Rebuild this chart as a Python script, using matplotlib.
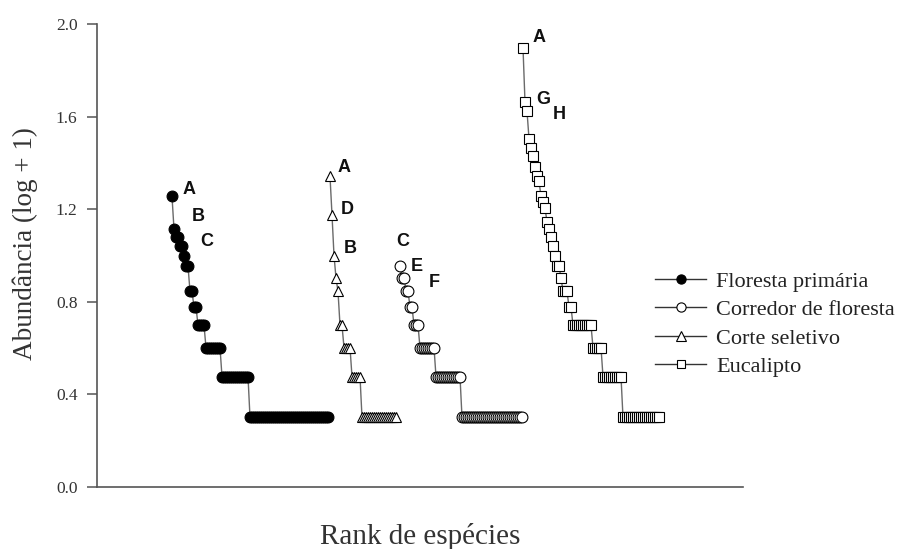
import numpy as np
import matplotlib
matplotlib.use("Agg")
import matplotlib.pyplot as plt

# Species abundances per habitat, ordered by rank (most abundant first)
floresta_primaria = [17, 12, 11, 11, 10, 10, 9, 8, 8, 6, 6, 5, 5,
                     4, 4, 4, 4,
                     3, 3, 3, 3, 3, 3, 3, 3,
                     2, 2, 2, 2, 2, 2, 2, 2, 2, 2, 2, 2, 2, 2,
                     1, 1, 1, 1, 1, 1, 1, 1, 1, 1, 1, 1, 1, 1, 1, 1, 1, 1, 1, 1,
                     1, 1, 1, 1, 1, 1, 1, 1, 1, 1, 1, 1, 1, 1, 1, 1, 1, 1, 1, 1]
corte_seletivo = [21, 14, 9, 7, 6, 4, 4, 3, 3, 3, 3, 2, 2, 2, 2, 2,
                  1, 1, 1, 1, 1, 1, 1, 1, 1, 1, 1, 1, 1, 1, 1, 1, 1, 1]
corredor_floresta = [8, 7, 7, 6, 6, 5, 5, 4, 4, 4,
                     3, 3, 3, 3, 3, 3, 3, 3,
                     2, 2, 2, 2, 2, 2, 2, 2, 2, 2, 2, 2, 2,
                     1, 1, 1, 1, 1, 1, 1, 1, 1, 1, 1, 1, 1, 1, 1, 1,
                     1, 1, 1, 1, 1, 1, 1, 1, 1, 1, 1, 1, 1, 1, 1]
eucalipto = [78, 45, 41, 31, 28, 26, 23, 21, 20, 17, 16, 15, 13, 12, 11, 10,
             9, 8, 8, 7, 6, 6, 6, 5, 5,
             4, 4, 4, 4, 4, 4, 4, 4, 4, 4,
             3, 3, 3, 3, 3,
             2, 2, 2, 2, 2, 2, 2, 2, 2, 2,
             1, 1, 1, 1, 1, 1, 1, 1, 1, 1, 1, 1, 1, 1, 1, 1, 1, 1, 1]

# First rank of each habitat on the shared rank axis
start_rank = {"floresta": 37.5, "corte": 116.5, "corredor": 151.5, "eucalipto": 213.0}

# Letter annotations: (series, rank index within series, letter, dx px, dy px)
letters = [
    ("floresta", 0, "A", 17, 7), ("floresta", 1, "B", 24, 13), ("floresta", 2, "C", 31, -4),
    ("corte", 0, "A", 14, 9), ("corte", 1, "D", 15, 5), ("corte", 2, "B", 16, 7),
    ("corredor", 0, "C", 3, 25), ("corredor", 1, "E", 15, 11), ("corredor", 3, "F", 28, 9),
    ("eucalipto", 0, "A", 16, 10), ("eucalipto", 1, "G", 18, 3), ("eucalipto", 2, "H", 32, -3),
]

serif = ["Liberation Serif", "DejaVu Serif"]
sans = ["Liberation Sans", "DejaVu Sans"]

fig = plt.figure(figsize=(8.99, 5.49), dpi=100)
W, H = 899, 549
ax_l, ax_r, ax_b, ax_t = 97, 743, 487, 24
ax = fig.add_axes([ax_l / W, 1 - ax_b / H, (ax_r - ax_l) / W, (ax_b - ax_t) / H])

series = [
    ("floresta", floresta_primaria, "Floresta primária", "o", "black"),
    ("corredor", corredor_floresta, "Corredor de floresta", "o", "white"),
    ("corte", corte_seletivo, "Corte seletivo", "^", "white"),
    ("eucalipto", eucalipto, "Eucalipto", "s", "white"),
]

coords = {}
for key, counts, label, marker, face in series:
    counts = np.asarray(counts, dtype=float)
    x = start_rank[key] + np.arange(len(counts))
    y = np.log10(counts + 1)
    coords[key] = (x, y)
    ms = 7.8 if marker == "o" else (7.8 if marker == "^" else 6.8)
    ax.plot(x, y, "-", color="#6a6a6a", lw=1.0, marker=marker, ms=ms,
            mfc=face, mec="black", mew=0.8, label=label, zorder=3)

for key, idx, letter, dx, dy in letters:
    x, y = coords[key]
    ax.annotate(letter, xy=(x[idx], y[idx]), xytext=(dx, dy),
                textcoords="offset pixels", ha="center", va="center",
                fontsize=13, fontweight="bold", family=sans, color="#111111")

ax.set_xlim(0, (ax_r - ax_l) / 2)
ax.set_ylim(0, 2.0)
ax.set_yticks([0.0, 0.4, 0.8, 1.2, 1.6, 2.0])
ax.set_yticklabels([f"{v:.1f}" for v in [0.0, 0.4, 0.8, 1.2, 1.6, 2.0]],
                   family=serif, fontsize=12.5, color="#333333")
ax.set_xticks([])
ax.tick_params(axis="y", direction="out", length=7, width=1.1, color="#555555", pad=7)

for side in ["top", "right"]:
    ax.spines[side].set_visible(False)
for side in ["left", "bottom"]:
    ax.spines[side].set_color("#555555")
    ax.spines[side].set_linewidth(1.2)

ax.set_ylabel("Abundância (log + 1)", family=serif, fontsize=19.5, color="#333333", va="center")
ax.yaxis.set_label_coords((25 - ax_l) / (ax_r - ax_l), (ax_b - 244) / (ax_b - ax_t))
ax.set_xlabel("Rank de espécies", family=serif, fontsize=21, color="#333333", va="center")
ax.xaxis.set_label_coords(0.5, (ax_b - 537) / (ax_b - ax_t))

leg = ax.legend(loc="upper left", bbox_to_anchor=(655 / W, 1 - 271 / H),
                bbox_transform=fig.transFigure, frameon=False, borderpad=0,
                borderaxespad=0, handlelength=2.3, handletextpad=0.45,
                labelspacing=0.36, prop={"family": serif, "size": 16},
                markerscale=0.85)
for line in leg.get_lines():
    line.set_color("#333333")
    line.set_markeredgecolor("black")
for t in leg.get_texts():
    t.set_color("#222222")

fig.savefig("out.png", dpi=100)
